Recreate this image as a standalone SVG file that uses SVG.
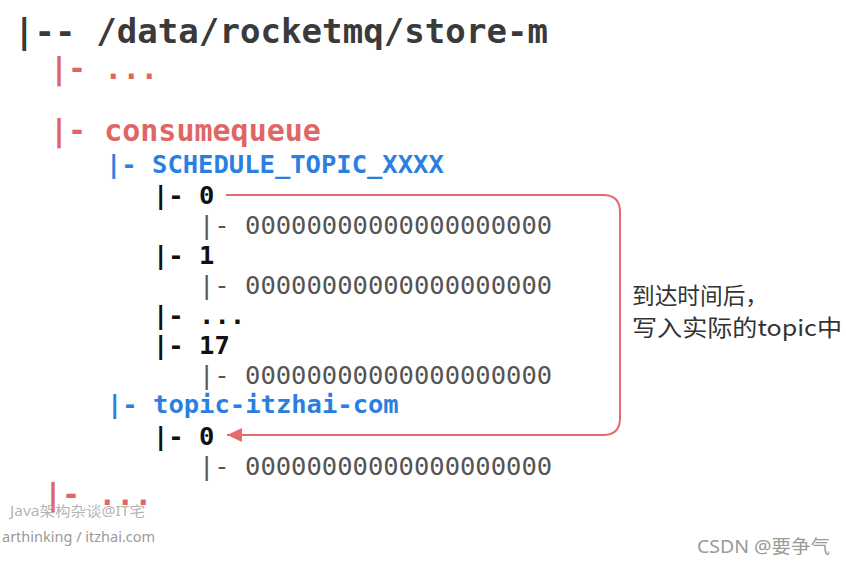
<svg xmlns="http://www.w3.org/2000/svg" width="846" height="564" viewBox="0 0 846 564">
<style>
  .mono { font-family: "DejaVu Sans Mono", "Liberation Mono", monospace; }
  .root { font-size: 34px; font-weight: bold; fill: #3a3a3a; }
  .red { font-size: 30px; font-weight: bold; fill: #e06666; }
  .blue { font-size: 25.5px; font-weight: bold; fill: #2b7fe0; }
  .blk { font-size: 25.5px; font-weight: bold; fill: #111111; }
  .file { font-size: 25.5px; fill: #555555; }
  .note { font-family: "Noto Sans CJK SC", "Noto Sans", sans-serif; font-size: 22.5px; fill: #333333; }
  .wm { font-family: "Noto Sans", "Noto Sans CJK SC", sans-serif; fill: #9a9a9a; }
  .conn { fill: none; stroke: #e46c6c; stroke-width: 2; }
</style>
<defs>
  <marker id="ah" markerWidth="15" markerHeight="14" refX="15" refY="7" orient="auto" markerUnits="userSpaceOnUse">
    <path d="M0,0 L15,7 L0,14 z" fill="#e46c6c"/>
  </marker>
</defs>
<rect width="846" height="564" fill="#ffffff"/>

<g id="root"><text class="mono root" x="14" y="43" textLength="534" lengthAdjust="spacing">|-- /data/rocketmq/store-m</text></g>
<g id="dots-top"><text class="mono red" x="50" y="79">|- ...</text></g>
<g id="consumequeue"><text class="mono red" x="50" y="141">|- consumequeue</text></g>
<g id="schedule-topic"><text class="mono blue" x="106" y="173">|- SCHEDULE_TOPIC_XXXX</text></g>
<g id="q0"><text class="mono blk" x="153" y="204">|- 0</text></g>
<g id="q0-file"><text class="mono file" x="199" y="234">|- 00000000000000000000</text></g>
<g id="q1"><text class="mono blk" x="153" y="264">|- 1</text></g>
<g id="q1-file"><text class="mono file" x="199" y="294">|- 00000000000000000000</text></g>
<g id="q-dots"><text class="mono blk" x="153" y="324">|- ...</text></g>
<g id="q17"><text class="mono blk" x="153" y="354">|- 17</text></g>
<g id="q17-file"><text class="mono file" x="199" y="384">|- 00000000000000000000</text></g>
<g id="topic-itzhai"><text class="mono blue" x="107" y="413">|- topic-itzhai-com</text></g>
<g id="t0"><text class="mono blk" x="153" y="445">|- 0</text></g>
<g id="t0-file"><text class="mono file" x="199" y="475">|- 00000000000000000000</text></g>
<g id="dots-bottom"><text class="mono red" x="44" y="505">|- ...</text></g>

<g id="connectors">
  <path class="conn" d="M226,195 H603 Q620,195 620,212 V418 Q620,435 603,435 H227" marker-end="url(#ah)"/>
</g>

<g id="note">
  <text class="note" x="632" y="304" textLength="136" lengthAdjust="spacingAndGlyphs">到达时间后，</text>
  <text class="note" x="632" y="336" textLength="210" lengthAdjust="spacingAndGlyphs">写入实际的topic中</text>
</g>

<g id="watermarks">
  <text class="wm" x="10" y="516" font-size="14" fill-opacity="0.75" textLength="135" lengthAdjust="spacingAndGlyphs">Java架构杂谈@IT宅</text>
  <text class="wm" x="2" y="542" font-size="14.5">arthinking / itzhai.com</text>
  <text class="wm" x="697" y="553" font-size="18.5" fill="#a0a0a0" textLength="133" lengthAdjust="spacingAndGlyphs">CSDN @要争气</text>
</g>
</svg>
